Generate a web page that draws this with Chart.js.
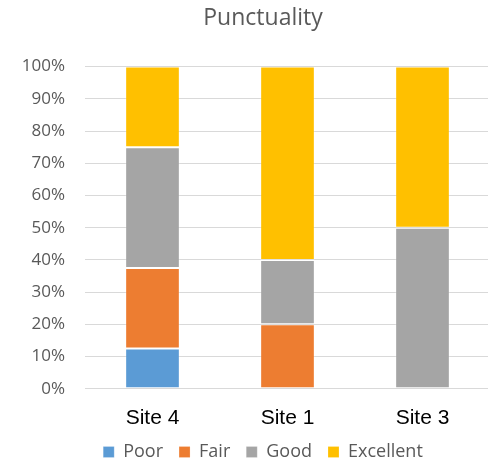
<!DOCTYPE html>
<html>
<head>
<meta charset="utf-8">
<script src="https://cdn.jsdelivr.net/npm/chart.js@4.4.1/dist/chart.umd.min.js"></script>
<style>
  html, body { margin: 0; padding: 0; background: #fff; overflow: hidden; }
  #wrap { width: 492px; height: 461px; position: relative; }
</style>
</head>
<body>
<div id="wrap"><canvas id="chart"></canvas></div>
<script>
// Categories and share of each rating (percent of responses per site)
const sites = ['Site 4', 'Site 1', 'Site 3'];
const poor = [12.5, 0, 0];
const fair = [25, 20, 0];
const good = [37.5, 20, 50];
const excellent = [25, 60, 50];
const yTicks = [0, 10, 20, 30, 40, 50, 60, 70, 80, 90, 100];

const GRID = '#d9d9d9';
const TEXT = '#595959';

const mk = (label, data, color) => ({
  label, data,
  backgroundColor: color,
  borderColor: 'rgba(255,255,255,0.2)',
  borderWidth: 1,
  borderSkipped: false,
  barPercentage: 0.405,
  categoryPercentage: 1.0
});

// Let the y tick labels use the space to the left of the axis box
const widenLabelClip = {
  id: 'widenLabelClip',
  afterLayout(chart) { chart.scales.y.left = 0; }
};

new Chart(document.getElementById('chart'), {
  type: 'bar',
  data: {
    labels: sites,
    datasets: [
      mk('Poor', poor, '#5B9BD5'),
      mk('Fair', fair, '#ED7D31'),
      mk('Good', good, '#A5A5A5'),
      mk('Excellent', excellent, '#FFC000')
    ]
  },
  plugins: [widenLabelClip],
  options: {
    responsive: true,
    maintainAspectRatio: false,
    animation: false,
    layout: { padding: { left: 36, right: 2, top: 0, bottom: -10 } },
    plugins: {
      title: {
        display: true,
        text: 'Punctuality',
        color: TEXT,
        font: { family: 'Open Sans', size: 23, weight: 'normal' },
        padding: { top: 5, bottom: 34 }
      },
      legend: {
        position: 'bottom',
        labels: {
          color: TEXT,
          font: { family: 'Open Sans', size: 18 },
          boxWidth: 11,
          boxHeight: 11,
          padding: 16
        }
      },
      tooltip: { enabled: false }
    },
    scales: {
      x: {
        stacked: true,
        grid: { display: false, drawTicks: false },
        border: { display: true, color: GRID, width: 1 },
        afterFit: (s) => { s.height = s.height - 21; },
        ticks: {
          color: '#000',
          font: { family: 'Liberation Sans', size: 21 },
          padding: 17
        }
      },
      y: {
        stacked: true,
        min: 0,
        max: 100,
        afterBuildTicks: (s) => { s.ticks = yTicks.map(v => ({ value: v })); },
        afterFit: (s) => { s.width = 49; },
        grid: { color: GRID, lineWidth: 1, drawTicks: false },
        border: { display: false },
        ticks: {
          color: TEXT,
          font: { family: 'Open Sans', size: 17 },
          padding: 20,
          callback: (v) => v + '%'
        }
      }
    }
  }
});
</script>
</body>
</html>
